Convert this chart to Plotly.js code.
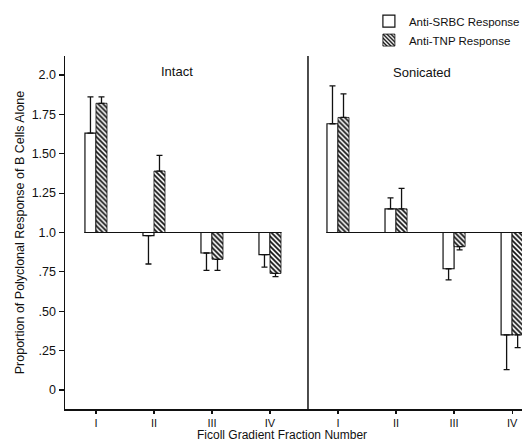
<!DOCTYPE html>
<html>
<head>
<meta charset="utf-8">
<script src="https://cdn.plot.ly/plotly-3.0.1.min.js"></script>
<style>html,body{margin:0;padding:0;background:#fff;}#chart{width:529px;height:443px;}</style>
</head>
<body>
<div id="chart"></div>
<script>
// ---- data ----
var fractions = ["I", "II", "III", "IV"];
var seriesNames = ["Anti-SRBC Response", "Anti-TNP Response"];
var panelNames = ["Intact", "Sonicated"];
// bar values (proportion of polyclonal response of B cells alone); bars drawn from 1.0
var intactSRBC = [1.63, 0.98, 0.87, 0.86];
var intactTNP = [1.82, 1.39, 0.83, 0.74];
var sonicatedSRBC = [1.69, 1.15, 0.77, 0.35];
var sonicatedTNP = [1.73, 1.15, 0.91, 0.35];
// end values of the one-sided error bars
var intactSRBCErrEnd = [1.86, 0.80, 0.76, 0.78];
var intactTNPErrEnd = [1.86, 1.49, 0.76, 0.72];
var sonicatedSRBCErrEnd = [1.93, 1.22, 0.70, 0.13];
var sonicatedTNPErrEnd = [1.88, 1.28, 0.89, 0.27];
var baseValue = 1.0;
var yTickVals = [0, 0.25, 0.5, 0.75, 1.0, 1.25, 1.5, 1.75, 2.0];
var yTickText = ["0", ".25", ".50", ".75", "1.0", "1.25", "1.50", "1.75", "2.0"];

var FONT = "'Liberation Sans', Arial, sans-serif";
var INK = "#111";

function makeBar(vals, errEnd, name, xa, hatched, showLegend) {
  var rel = vals.map(function (v) { return v - baseValue; });
  var plus = vals.map(function (v, i) { return v >= baseValue ? Math.abs(errEnd[i] - v) : 0; });
  var minus = vals.map(function (v, i) { return v < baseValue ? Math.abs(errEnd[i] - v) : 0; });
  var marker = { color: "#fff", line: { color: INK, width: 1.2 } };
  if (hatched) {
    marker = {
      color: "#fff",
      line: { color: INK, width: 0.8 },
      pattern: { shape: "\\", fgcolor: INK, bgcolor: "#fff", size: 3.5, solidity: 0.5, fillmode: "replace" }
    };
  }
  return {
    type: "bar",
    x: fractions,
    y: rel,
    base: baseValue,
    name: name,
    legendgroup: name,
    showlegend: showLegend,
    xaxis: xa,
    yaxis: "y",
    marker: marker,
    error_y: { type: "data", symmetric: false, array: plus, arrayminus: minus, color: INK, thickness: 1.3, width: 3 },
    hoverinfo: "skip"
  };
}

var data = [
  makeBar(intactSRBC, intactSRBCErrEnd, seriesNames[0], "x", false, true),
  makeBar(intactTNP, intactTNPErrEnd, seriesNames[1], "x", true, true),
  makeBar(sonicatedSRBC, sonicatedSRBCErrEnd, seriesNames[0], "x2", false, false),
  makeBar(sonicatedTNP, sonicatedTNPErrEnd, seriesNames[1], "x2", true, false)
];

var split = 0.5317;
var xCommon = {
  type: "category",
  showline: true, linecolor: INK, linewidth: 1.5,
  ticks: "outside", ticklen: 3, tickwidth: 1.2, tickcolor: INK,
  showgrid: false, zeroline: false,
  tickfont: { family: FONT, size: 11, color: INK },
  anchor: "y"
};

var layout = {
  width: 529, height: 443,
  margin: { l: 65, r: 7, t: 56, b: 34, autoexpand: false },
  paper_bgcolor: "#fff", plot_bgcolor: "#fff",
  font: { family: FONT, color: INK },
  barmode: "group", bargap: 0.62, bargroupgap: 0,
  showlegend: true,
  legend: {
    x: 0.665, y: 1.14, xanchor: "left", yanchor: "top",
    font: { family: FONT, size: 11.5, color: INK },
    bgcolor: "rgba(0,0,0,0)", tracegroupgap: 0, itemwidth: 30
  },
  xaxis: Object.assign({}, xCommon, { domain: [0, split], range: [-0.534, 3.655] }),
  xaxis2: Object.assign({}, xCommon, { domain: [split, 1], range: [-0.517, 3.17] }),
  yaxis: {
    range: [-0.12, 2.12],
    tickvals: yTickVals, ticktext: yTickText,
    showline: true, linecolor: INK, linewidth: 1.5,
    ticks: "outside", ticklen: 5, tickwidth: 1.2, tickcolor: INK,
    showgrid: false, zeroline: false,
    tickfont: { family: FONT, size: 12.5, color: INK },
    title: { text: "Proportion of Polyclonal Response of B Cells Alone", font: { family: FONT, size: 12.5, color: INK }, standoff: 4 }
  },
  shapes: [
    { type: "line", xref: "paper", yref: "paper", x0: split, x1: split, y0: 0, y1: 1, line: { color: INK, width: 1.5 } },
    { type: "line", xref: "x", yref: "y", x0: -0.2, x1: 3.2, y0: baseValue, y1: baseValue, line: { color: INK, width: 1.2 }, layer: "above" },
    { type: "line", xref: "x2", yref: "y", x0: -0.2, x1: 3.2, y0: baseValue, y1: baseValue, line: { color: INK, width: 1.2 }, layer: "above" }
  ],
  annotations: [
    { text: panelNames[0], xref: "paper", yref: "paper", x: 0.245, y: 0.955, xanchor: "center", yanchor: "middle", showarrow: false, font: { family: FONT, size: 13, color: INK } },
    { text: panelNames[1], xref: "paper", yref: "paper", x: 0.781, y: 0.952, xanchor: "center", yanchor: "middle", showarrow: false, font: { family: FONT, size: 13, color: INK } },
    { text: "Ficoll Gradient Fraction Number", xref: "paper", yref: "paper", x: 0.475, y: 0, yshift: -35, xanchor: "center", yanchor: "bottom", showarrow: false, font: { family: FONT, size: 12, color: INK } }
  ]
};

Plotly.newPlot("chart", data, layout, { staticPlot: true, displayModeBar: false });
</script>
</body>
</html>
